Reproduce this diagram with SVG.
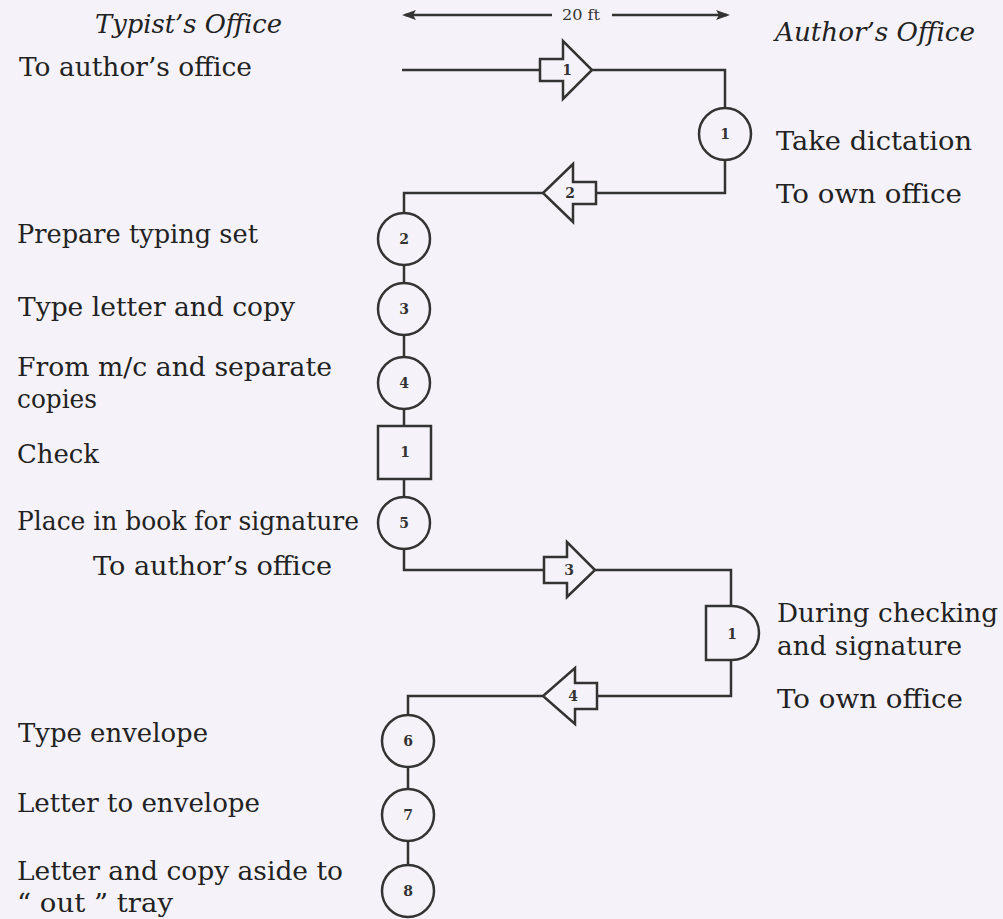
<svg xmlns="http://www.w3.org/2000/svg" width="1003" height="919" viewBox="0 0 1003 919">
<style>
.bg{fill:#f5f3f9}
.ln{fill:none;stroke:#333;stroke-width:2.5;stroke-linejoin:miter}
.sh{fill:#f5f3f9;stroke:#333;stroke-width:2.5;stroke-linejoin:miter}
.t{font-family:"DejaVu Serif","Liberation Serif",serif;font-size:26px;fill:#222}
.it{font-family:"DejaVu Serif","Liberation Serif",serif;font-size:26px;font-style:italic;fill:#222}
.n{font-family:"DejaVu Serif","Liberation Serif",serif;font-size:14px;font-weight:600;fill:#333;text-anchor:middle}
.s{font-family:"DejaVu Serif","Liberation Serif",serif;font-size:14px;fill:#333;text-anchor:middle}
</style>
<rect class="bg" x="0" y="0" width="1003" height="919"/>

<g id="headers">
<text class="it" x="95" y="33" textLength="187" lengthAdjust="spacingAndGlyphs">Typist’s Office</text>
<text class="it" x="775" y="41" textLength="200" lengthAdjust="spacingAndGlyphs">Author’s Office</text>
</g>

<g id="scale">
<line class="ln" x1="405" y1="15" x2="552" y2="15" stroke-width="2"/>
<line class="ln" x1="612" y1="15" x2="727" y2="15" stroke-width="2"/>
<polygon points="402,15 416,10 413,15 416,20" fill="#333"/>
<polygon points="730,15 716,10 719,15 716,20" fill="#333"/>
<text class="s" x="581" y="20" textLength="38" lengthAdjust="spacingAndGlyphs">20 ft</text>
</g>

<g id="connectors">
<polyline class="ln" points="402,70 540,70"/>
<polyline class="ln" points="592,70 725,70 725,108"/>
<polyline class="ln" points="725,160 725,193 596,193"/>
<polyline class="ln" points="543,193 404,193 404,213"/>
<line class="ln" x1="404" y1="265" x2="404" y2="283"/>
<line class="ln" x1="404" y1="335" x2="404" y2="357"/>
<line class="ln" x1="404" y1="409" x2="404" y2="426"/>
<line class="ln" x1="404" y1="479" x2="404" y2="497"/>
<polyline class="ln" points="404,549 404,570 544,570"/>
<polyline class="ln" points="595,570 731,570 731,606"/>
<polyline class="ln" points="731,660 731,696 597,696"/>
<polyline class="ln" points="543,696 408,696 408,715"/>
<line class="ln" x1="408" y1="767" x2="408" y2="789"/>
<line class="ln" x1="408" y1="841" x2="408" y2="865"/>
</g>

<g id="transport1">
<polygon class="sh" points="540,59 563,59 563,41 592,70 563,99 563,81 540,81"/>
<text class="n" x="567" y="75">1</text>
</g>
<g id="transport2">
<polygon class="sh" points="596,182 573,182 573,164 543,193 573,222 573,204 596,204"/>
<text class="n" x="570" y="198">2</text>
</g>
<g id="transport3">
<polygon class="sh" points="544,557 567,557 567,542 595,570 567,597 567,583 544,583"/>
<text class="n" x="569" y="575">3</text>
</g>
<g id="transport4">
<polygon class="sh" points="597,683 575,683 575,668 543,696 575,724 575,709 597,709"/>
<text class="n" x="573" y="701">4</text>
</g>

<g id="author-op1">
<circle class="sh" cx="725" cy="134" r="26"/>
<text class="n" x="725" y="139">1</text>
</g>
<g id="op2">
<circle class="sh" cx="404" cy="239" r="26"/>
<text class="n" x="404" y="244">2</text>
</g>
<g id="op3">
<circle class="sh" cx="404" cy="309" r="26"/>
<text class="n" x="404" y="314">3</text>
</g>
<g id="op4">
<circle class="sh" cx="404" cy="383" r="26"/>
<text class="n" x="404" y="388">4</text>
</g>
<g id="inspection1">
<rect class="sh" x="378" y="426" width="53" height="53"/>
<text class="n" x="405" y="457">1</text>
</g>
<g id="op5">
<circle class="sh" cx="404" cy="523" r="26"/>
<text class="n" x="404" y="528">5</text>
</g>
<g id="delay1">
<path class="sh" d="M706,606 H732 A27,27 0 0 1 732,660 H706 Z"/>
<text class="n" x="732" y="639">1</text>
</g>
<g id="op6">
<circle class="sh" cx="408" cy="741" r="26"/>
<text class="n" x="408" y="746">6</text>
</g>
<g id="op7">
<circle class="sh" cx="408" cy="815" r="26"/>
<text class="n" x="408" y="820">7</text>
</g>
<g id="op8">
<circle class="sh" cx="408" cy="891" r="26"/>
<text class="n" x="408" y="896">8</text>
</g>

<g id="labels">
<text class="t" x="19" y="76" textLength="233" lengthAdjust="spacingAndGlyphs">To author’s office</text>
<text class="t" x="776" y="150" textLength="196" lengthAdjust="spacingAndGlyphs">Take dictation</text>
<text class="t" x="776" y="203" textLength="186" lengthAdjust="spacingAndGlyphs">To own office</text>
<text class="t" x="17" y="243" textLength="241" lengthAdjust="spacingAndGlyphs">Prepare typing set</text>
<text class="t" x="18" y="316" textLength="277" lengthAdjust="spacingAndGlyphs">Type letter and copy</text>
<text class="t" x="17" y="376" textLength="315" lengthAdjust="spacingAndGlyphs">From m/c and separate</text>
<text class="t" x="17" y="408" textLength="80" lengthAdjust="spacingAndGlyphs">copies</text>
<text class="t" x="17" y="463" textLength="82" lengthAdjust="spacingAndGlyphs">Check</text>
<text class="t" x="17" y="530" textLength="342" lengthAdjust="spacingAndGlyphs">Place in book for signature</text>
<text class="t" x="93" y="575" textLength="239" lengthAdjust="spacingAndGlyphs">To author’s office</text>
<text class="t" x="777" y="622" textLength="221" lengthAdjust="spacingAndGlyphs">During checking</text>
<text class="t" x="777" y="655" textLength="185" lengthAdjust="spacingAndGlyphs">and signature</text>
<text class="t" x="777" y="708" textLength="186" lengthAdjust="spacingAndGlyphs">To own office</text>
<text class="t" x="18" y="742" textLength="190" lengthAdjust="spacingAndGlyphs">Type envelope</text>
<text class="t" x="17" y="812" textLength="243" lengthAdjust="spacingAndGlyphs">Letter to envelope</text>
<text class="t" x="17" y="880" textLength="326" lengthAdjust="spacingAndGlyphs">Letter and copy aside to</text>
<text class="t" x="17" y="912" textLength="156" lengthAdjust="spacingAndGlyphs">“ out ” tray</text>
</g>
</svg>
